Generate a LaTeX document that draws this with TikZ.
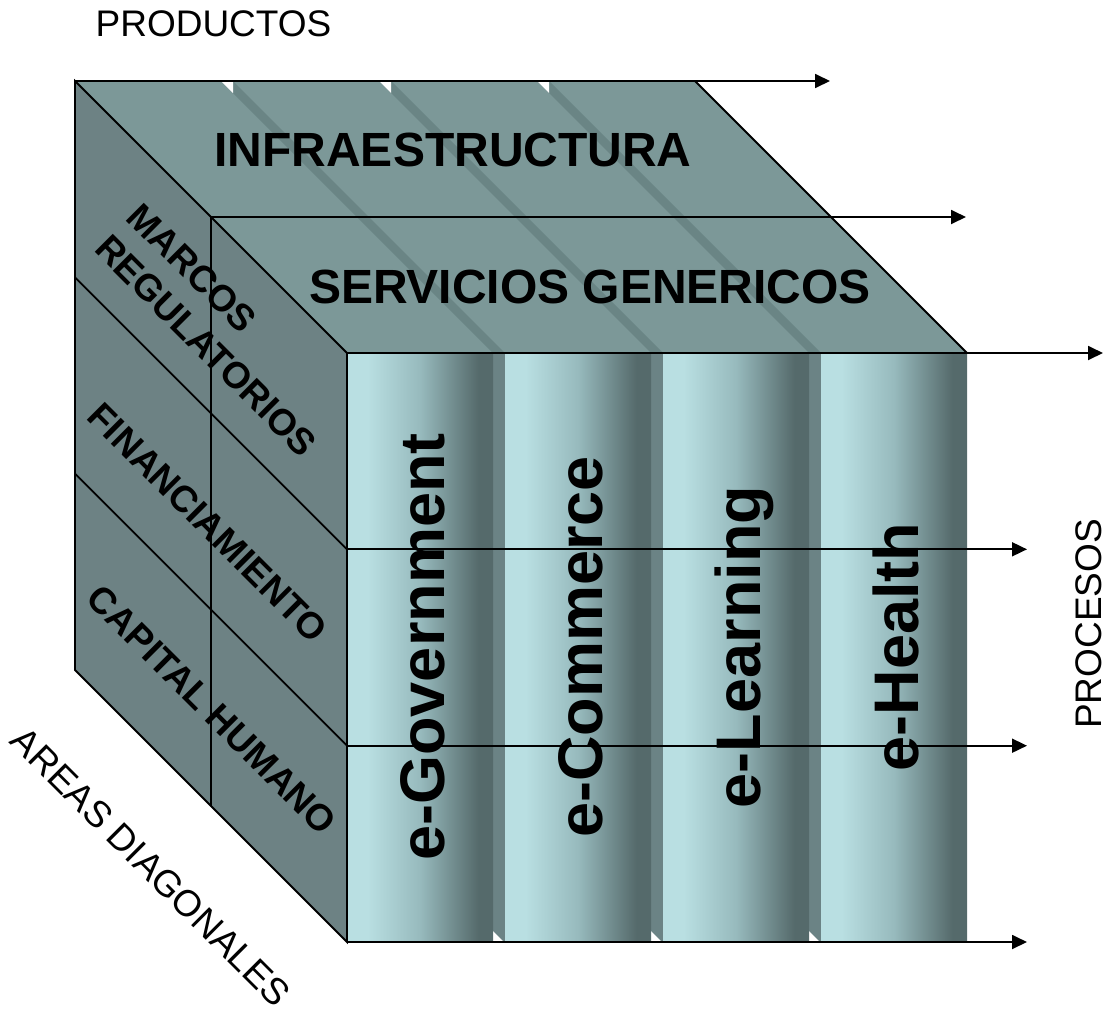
\documentclass[tikz,border=0pt]{standalone}
\usepackage{fontspec}
\setmainfont{Liberation Sans}
\usetikzlibrary{arrows.meta}

\definecolor{caraSup}{HTML}{7C9898}
\definecolor{caraIzq}{HTML}{6D8284}
\definecolor{franja}{HTML}{6A8585}
\definecolor{hueco}{HTML}{6B8385}
\definecolor{colClaro}{HTML}{B9DFE2}
\definecolor{colMedio}{HTML}{97BABD}
\definecolor{colOscuro}{HTML}{556A6B}
\pgfdeclarehorizontalshading{columna}{100bp}{color(0bp)=(colClaro); color(25bp)=(colClaro); color(32bp)=(colClaro); color(50bp)=(colMedio); color(70bp)=(colOscuro); color(100bp)=(colOscuro)}

\begin{document}
\begin{tikzpicture}[x = 1pt , y = -1pt ,
    linea/.style = {line width = 1.8pt},
    flecha/.style = {line width = 1.8pt , -{Triangle[length = 15pt , width = 14pt]}},
    eje/.style = {font = \fontsize{37}{44}\selectfont , inner sep = 0pt},
    grande/.style = {font = \fontsize{48}{56}\selectfont\bfseries , inner sep = 0pt},
    lateral/.style = {font = \fontsize{37}{44.5}\selectfont\bfseries , inner sep = 0pt , rotate = -45 , align = left},
    vertical/.style = {font = \fontsize{63}{70}\selectfont\bfseries , inner sep = 0pt , rotate = 90 , anchor = base}]
    \useasboundingbox (0,0) rectangle (1106,1010);

    % esquinas del cubo
    \coordinate (A) at (75,81);
    \coordinate (B) at (695,81);
    \coordinate (C) at (967,353);
    \coordinate (D) at (347,353);
    \coordinate (E) at (347,942);
    \coordinate (F) at (75,670);
    \coordinate (M1) at (211,217);
    \coordinate (M2) at (211,806);
    \coordinate (L1) at (75,277.3);
    \coordinate (L2) at (75,473.7);
    \coordinate (E1) at (347,549.3);
    \coordinate (E2) at (347,745.7);
    % puntas de flecha
    \coordinate (t1) at (830,81);
    \coordinate (t2) at (966,217);
    \coordinate (t3) at (1103,353);
    \coordinate (t4) at (1027,549.3);
    \coordinate (t5) at (1027,745.7);
    \coordinate (t6) at (1027,942);

    \fill[caraSup] (A) -- (B) -- (C) -- (D) -- cycle; % cara superior
    \foreach \g in {493,651,809} {
        \fill[franja] (\g,353) -- (\g+12,353) -- (\g-260,81) -- (\g-272,81) -- cycle;
        \fill[white] (\g-272,81) -- (\g-260,81) -- (\g-260,93) -- cycle;
    }
    \fill[caraIzq] (A) -- (D) -- (E) -- (F) -- cycle; % cara lateral

    % columnas
    \foreach \g in {493,651,809} {
        \fill[hueco] (\g,353) rectangle (\g+12,942);
        \fill[white] (\g,931) -- (\g,942) -- (\g+11,942) -- cycle;
    }
    \foreach \c in {347,505,663,821}
        \shade[shading = columna] (\c,353) rectangle (\c+146,942);

    % aristas
    \draw[linea] (B) -- (C);
    \draw[linea] (A) -- (D) -- (E) -- (F) -- cycle;
    \draw[linea] (L1) -- (E1);
    \draw[linea] (L2) -- (E2);
    \draw[linea] (M1) -- (M2);

    \draw[flecha] (A) -- (t1);
    \draw[flecha] (M1) -- (t2);
    \draw[flecha] (D) -- (t3);
    \draw[flecha] (E1) -- (t4);
    \draw[flecha] (E2) -- (t5);
    \draw[flecha] (E) -- (t6);

    % textos
    \node[eje] (productos) at (213.5,23.5) {PRODUCTOS};
    \node[eje , rotate = 90] (procesos) at (1089,624) {PROCESOS};
    \node[eje , rotate = -45] (areas) at (151,867) {AREAS DIAGONALES};
    \node[grande] (infra) at (453,150) {INFRAESTRUCTURA};
    \node[grande] (servicios) at (590,287) {SERVICIOS GENERICOS};
    \node[lateral] (marcos) at (222,330) {MARCOS\\REGULATORIOS};
    \node[lateral] (finan) at (208,523) {FINANCIAMIENTO};
    \node[lateral] (capital) at (212,710) {CAPITAL HUMANO};
    \node[vertical] (egov) at (444,647) {e-Government};
    \node[vertical] (ecom) at (602,647) {e-Commerce};
    \node[vertical] (elearn) at (760,647) {e-Learning};
    \node[vertical] (ehealth) at (918,647) {e-Health};
\end{tikzpicture}
\end{document}
